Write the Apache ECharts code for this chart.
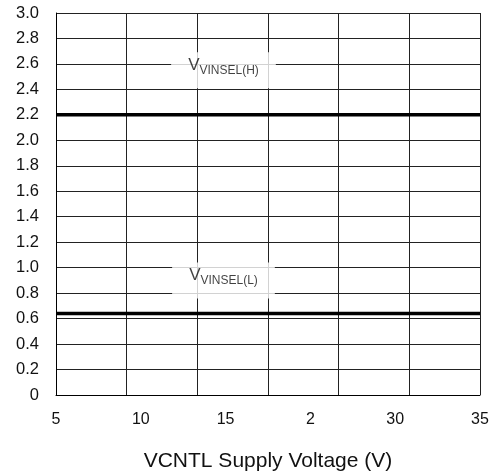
<!DOCTYPE html>
<html><head><meta charset="utf-8">
<script src="https://cdn.jsdelivr.net/npm/echarts@6/dist/echarts.min.js"></script>
<style>html,body{margin:0;padding:0;background:#fff}#c{width:499px;height:473px}</style>
</head><body><div id="c"></div>
<script>
// Tick labels printed under the x axis (as in the original, incl. "2")
const xTickLabels = ['5', '10', '15', '2', '30', '35'];
// Grid columns (6 equal divisions across the plot)
const gridColumns = [0, 1, 2, 3, 4, 5, 6];
// Y axis
const yMin = 0, yMax = 3.0, yStep = 0.2;
// Threshold levels (V)
const levelNames = ['VINSEL(H)', 'VINSEL(L)'];
const levelValues = [2.2, 0.64];
// Annotation anchor positions (grid units, V)
const annotX = [2.37, 2.37];
const annotY = [2.55, 0.90];

const xStart = gridColumns[0], xEnd = gridColumns[gridColumns.length - 1];
const lineSeries = levelValues.map((v, i) => ({
  type: 'line', xAxisIndex: 0, yAxisIndex: 0,
  data: [[xStart, v], [xEnd, v]],
  symbol: 'none', silent: true,
  lineStyle: { color: '#000', width: 3.5 }, z: 5
}));
const annotSeries = {
  type: 'scatter', xAxisIndex: 0, yAxisIndex: 0,
  symbolSize: 0, silent: true, z: 10,
  data: levelNames.map((n, i) => ({ value: [annotX[i], annotY[i]], name: n })),
  label: {
    show: true, position: 'inside',
    formatter: p => '{v|V}{s|' + p.name + '}',
    backgroundColor: '#fff', padding: [2, 17, 12, 17],
    rich: {
      v: { fontSize: 17, fontFamily: 'Liberation Sans', color: '#111' },
      s: { fontSize: 12, fontFamily: 'Liberation Sans', color: '#111', padding: [10, 0, 0, 0] }
    }
  }
};

const chart = echarts.init(document.getElementById('c'), null, { renderer: 'canvas' });
chart.setOption({
  animation: false,
  backgroundColor: '#fff',
  grid: { left: 56, right: 19, top: 13, bottom: 78, outerBoundsMode: 'none', containLabel: false },
  xAxis: [
    {
      type: 'value', min: xStart, max: xEnd, interval: 1, position: 'bottom',
      axisLine: { show: true, lineStyle: { color: '#000', width: 1 } },
      axisTick: { show: false }, axisLabel: { show: false },
      splitLine: { show: true, lineStyle: { color: '#222', width: 1 } }
    },
    {
      type: 'value', min: 0, max: xTickLabels.length - 1, interval: 1, position: 'bottom',
      axisLine: { show: false }, axisTick: { show: false }, splitLine: { show: false },
      axisLabel: {
        show: true, margin: 17, fontSize: 16, fontFamily: 'Liberation Sans', color: '#111',
        formatter: v => xTickLabels[Math.round(v)]
      },
      name: 'VCNTL Supply Voltage (V)', nameLocation: 'middle', nameGap: 56,
      nameTextStyle: { fontSize: 21, fontFamily: 'Liberation Sans', color: '#111' }
    }
  ],
  yAxis: {
    type: 'value', min: yMin, max: yMax, interval: yStep,
    axisLine: { show: true, lineStyle: { color: '#000', width: 1 } },
    axisTick: { show: false },
    axisLabel: {
      margin: 17, fontSize: 16.5, fontFamily: 'Liberation Sans', color: '#111', padding: [5, 0, 0, 0],
      formatter: v => (Math.abs(v) < 1e-9 ? '0' : v.toFixed(1))
    },
    splitLine: { show: true, lineStyle: { color: '#222', width: 1 } }
  },
  series: [...lineSeries, annotSeries]
});
</script></body></html>
